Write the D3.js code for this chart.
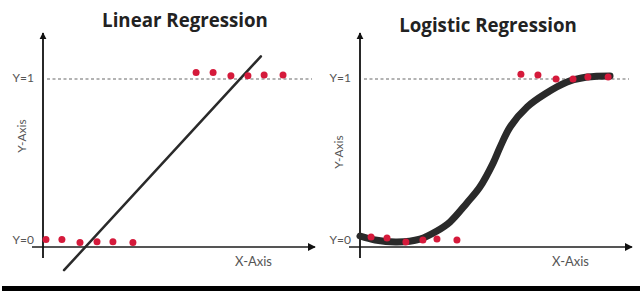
<!DOCTYPE html>
<html>
<head>
<meta charset="utf-8">
<script src="https://cdn.jsdelivr.net/npm/d3@7"></script>
<style>
  body { margin: 0; background: #fff; }
  svg { display: block; }
</style>
</head>
<body>
<svg id="chart" width="640" height="291"></svg>
<script>
// values, in data units (x 0..10, y 0..1)
const titles = ["Linear Regression", "Logistic Regression"];
const yTickVals = [0, 1];
const yTickLabels = ["Y=0", "Y=1"];

const linLowX  = [0.11, 0.70, 1.37, 2.00, 2.59, 3.33];
const linLowY  = [0.01, 0.01, -0.01, -0.005, -0.005, -0.01];
const linHighX = [5.67, 6.30, 6.96, 7.59, 8.19, 8.89];
const linHighY = [1.04, 1.04, 1.02, 1.02, 1.025, 1.025];
const linFitX  = [0.78, 8.07];
const linFitY  = [-0.18, 1.14];

const logLowX  = [0.41, 1.00, 1.70, 2.33, 2.85, 3.59];
const logLowY  = [0.025, 0.019, -0.006, 0.006, 0.012, 0.006];
const logHighX = [5.96, 6.59, 7.26, 7.89, 8.44, 9.19];
const logHighY = [1.03, 1.025, 1.0, 1.0, 1.012, 1.012];
const logFitX  = [0, 0.56, 1.37, 2.22, 2.85, 3.33, 3.96, 4.44, 4.93, 5.19, 5.56, 6.19, 6.85, 7.67, 8.41, 9.26];
const logFitY  = [0.031, 0.006, -0.006, 0.012, 0.062, 0.117, 0.235, 0.333, 0.481, 0.58, 0.704, 0.827, 0.907, 0.981, 1.012, 1.019];

const zip = (xs, ys) => xs.map((x, i) => [x, ys[i]]);

const panels = [
  { title: titles[0], left: 43, titleX: 185, titleY: 27, yLabelY: 136,
    low: zip(linLowX, linLowY), high: zip(linHighX, linHighY),
    fit: zip(linFitX, linFitY), fitWidth: 2.5, curve: d3.curveLinear },
  { title: titles[1], left: 360, titleX: 488, titleY: 32, yLabelY: 152,
    low: zip(logLowX, logLowY), high: zip(logHighX, logHighY),
    fit: zip(logFitX, logFitY), fitWidth: 7, curve: d3.curveCatmullRom }
];

const svg = d3.select("#chart");
const y = d3.scaleLinear().domain([0, 1]).range([241, 79]);

const defs = svg.append("defs");
defs.append("marker")
  .attr("id", "arrow")
  .attr("viewBox", "0 0 10 10")
  .attr("refX", 9).attr("refY", 5)
  .attr("markerWidth", 4).attr("markerHeight", 4)
  .attr("orient", "auto")
  .append("path")
  .attr("d", "M0,0 L10,5 L0,10 Z")
  .attr("fill", "#111");

panels.forEach(p => {
  const x = d3.scaleLinear().domain([0, 10]).range([p.left, p.left + 270]);
  const g = svg.append("g");
  const axisY = y(0) + 6;

  // title
  g.append("text")
    .attr("x", p.titleX)
    .attr("y", p.titleY)
    .attr("text-anchor", "middle")
    .style("font-family", "'Open Sans', sans-serif")
    .style("font-weight", "bold")
    .style("font-size", "18.7px")
    .attr("fill", "#222")
    .text(p.title);

  // Y=1 reference line
  g.append("line")
    .attr("x1", x(0) + 4).attr("x2", x(10) - 1)
    .attr("y1", y(1)).attr("y2", y(1))
    .attr("stroke", "#9a9a9a")
    .attr("stroke-width", 1.5)
    .attr("stroke-dasharray", "3,2.5");

  // x axis
  g.append("line")
    .attr("x1", x(0) - 11).attr("x2", x(10) + 2)
    .attr("y1", axisY).attr("y2", axisY)
    .attr("stroke", "#555")
    .attr("stroke-width", 2)
    .attr("marker-end", "url(#arrow)");

  // y axis
  g.append("line")
    .attr("x1", x(0)).attr("x2", x(0))
    .attr("y1", axisY + 11).attr("y2", 33)
    .attr("stroke", "#111")
    .attr("stroke-width", 1.8)
    .attr("marker-end", "url(#arrow)");

  // tick labels
  g.selectAll(".ytick")
    .data(yTickVals)
    .join("text")
    .attr("x", x(0) - 9)
    .attr("y", d => y(d) + 3)
    .attr("text-anchor", "end")
    .style("font-family", "Lato, sans-serif")
    .style("font-size", "12px")
    .attr("fill", "#555")
    .text((d, i) => yTickLabels[i]);

  g.append("text")
    .attr("transform", `translate(${x(0) - 21},${p.yLabelY}) rotate(-90)`)
    .attr("text-anchor", "middle")
    .attr("dy", "0.35em")
    .style("font-family", "Lato, sans-serif")
    .style("font-size", "12px")
    .attr("fill", "#555")
    .text("Y-Axis");

  g.append("text")
    .attr("x", x(10) - 78)
    .attr("y", axisY + 19)
    .style("font-family", "Lato, sans-serif")
    .style("font-size", "13px")
    .attr("fill", "#555")
    .text("X-Axis");

  // fit line / curve
  g.append("path")
    .datum(p.fit)
    .attr("d", d3.line().x(d => x(d[0])).y(d => y(d[1])).curve(p.curve))
    .attr("fill", "none")
    .attr("stroke", "#2a2a2a")
    .attr("stroke-width", p.fitWidth)
    .attr("stroke-linecap", "round");

  // points
  g.selectAll(".pt")
    .data(p.low.concat(p.high))
    .join("circle")
    .attr("cx", d => x(d[0]))
    .attr("cy", d => y(d[1]))
    .attr("r", 3.5)
    .attr("fill", "#d51a3b");
});

// bottom frame bar
svg.append("rect")
  .attr("x", 2).attr("y", 286)
  .attr("width", 638).attr("height", 5)
  .attr("fill", "#000");
</script>
</body>
</html>
